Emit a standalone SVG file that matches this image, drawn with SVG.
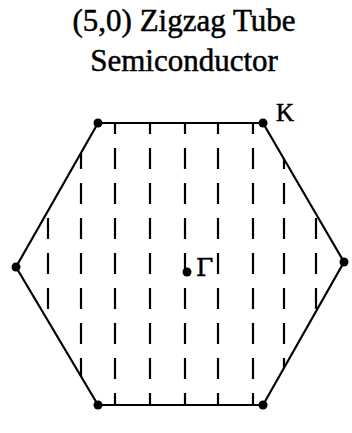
<svg xmlns="http://www.w3.org/2000/svg" width="352" height="433" viewBox="0 0 352 433">
<style>
.t{font-family:"Liberation Serif","Times New Roman",serif;fill:#000;stroke:#000;stroke-width:0.5}
.edge{fill:none;stroke:#000;stroke-width:2.2}
.dash{stroke:#000;stroke-width:2.2;stroke-dasharray:21 14}
.v{fill:#000}
</style>
<defs>
<clipPath id="hex"><polygon points="98,123 263,123 344,262 263,405 98,405 16,267"/></clipPath>
</defs>
<rect width="352" height="433" fill="#fff"/>
<g id="title">
<text class="t" x="184" y="31" font-size="31" text-anchor="middle">(5,0) Zigzag Tube</text>
<text class="t" x="184" y="71" font-size="31" text-anchor="middle">Semiconductor</text>
</g>
<g id="cutlines" clip-path="url(#hex)">
<line class="dash" x1="48" y1="113" x2="48" y2="410"/>
<line class="dash" x1="81" y1="113" x2="81" y2="410"/>
<line class="dash" x1="115" y1="113" x2="115" y2="410"/>
<line class="dash" x1="150" y1="113" x2="150" y2="410"/>
<line class="dash" x1="185" y1="113" x2="185" y2="410"/>
<line class="dash" x1="218" y1="113" x2="218" y2="410"/>
<line class="dash" x1="253" y1="113" x2="253" y2="410"/>
<line class="dash" x1="284" y1="113" x2="284" y2="410"/>
<line class="dash" x1="316" y1="113" x2="316" y2="410"/>
</g>
<g id="hexagon">
<polygon class="edge" points="98,123 263,123 344,262 263,405 98,405 16,267"/>
</g>
<g id="vertices">
<circle class="v" cx="98" cy="123" r="4.5"/>
<circle class="v" cx="263" cy="123" r="4.5"/>
<circle class="v" cx="344" cy="262" r="4.5"/>
<circle class="v" cx="263" cy="405" r="4.5"/>
<circle class="v" cx="98" cy="405" r="4.5"/>
<circle class="v" cx="16" cy="267" r="4.5"/>
</g>
<g id="K">
<text class="t" x="276" y="121" font-size="25">K</text>
</g>
<g id="Gamma">
<circle class="v" cx="187" cy="272" r="4.5"/>
<text class="t" x="196" y="276" font-size="25" style="font-family:'DejaVu Serif',serif;font-style:normal" font-size-adjust="none">Γ</text>
</g>
</svg>
